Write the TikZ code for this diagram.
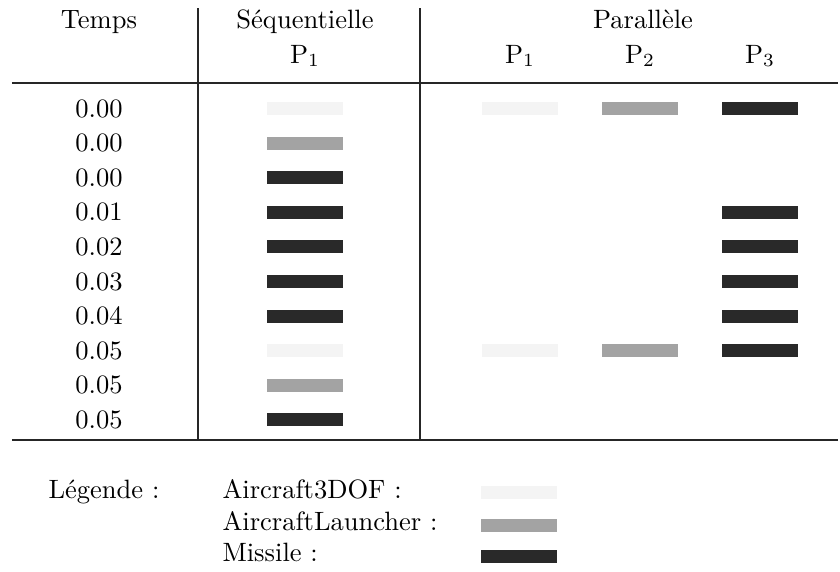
\documentclass[tikz,border=0pt]{standalone}
\usepackage{tikz}
\usetikzlibrary{positioning}
\definecolor{aircraftcol}{gray}{0.955}
\definecolor{launchercol}{gray}{0.64}
\definecolor{missilecol}{gray}{0.16}
\tikzset{
	slot/.style={
		rectangle,
		inner sep=0pt,
		minimum width=28.6pt,
		minimum height=4.9pt,
		fill=#1
	},
	txt/.style={anchor=base, inner sep=0pt},
	rule/.style={line width=0.65pt, draw=black!85}
}

\begin{document}
\begin{tikzpicture}[x=0.377pt, y=-0.377pt]
	\useasboundingbox (0,0) rectangle (840,572);
	% en-tete
	\node [txt] (temps) at (99,28) {Temps};
	\node [txt] (seq) at (305,28) {Séquentielle};
	\node [txt] (seqP1) at (305,63) {P$_1$};
	\node [txt] (par) at (643,28) {Parallèle};
	\node [txt] (parP1) at (520,63) {P$_1$};
	\node [txt] (parP2) at (640,63) {P$_2$};
	\node [txt] (parP3) at (760,63) {P$_3$};
	% filets
	\draw [rule] (12,83) -- (838,83);
	\draw [rule] (12,440) -- (838,440);
	\draw [rule] (198,8) -- (198,440);
	\draw [rule] (420,8) -- (420,440);
	% temps
	\foreach \t [count=\i] in {0.00,0.00,0.00,0.01,0.02,0.03,0.04,0.05,0.05,0.05}
		\node [txt] (t\i) at (99,{117+34.6*(\i-1)}) {\t};
	% execution sequentielle
	\foreach \r/\c in {1/aircraftcol,2/launchercol,3/missilecol,4/missilecol,5/missilecol,6/missilecol,7/missilecol,8/aircraftcol,9/launchercol,10/missilecol}
		\node [slot=\c] (s\r) at (305,{108.5+34.6*(\r-1)}) {};
	% execution parallele
	\foreach \r in {1,8} {
		\node [slot=aircraftcol] (pa\r) at (520,{108.5+34.6*(\r-1)}) {};
		\node [slot=launchercol] (pb\r) at (640,{108.5+34.6*(\r-1)}) {};
	}
	\foreach \r in {1,4,5,6,7,8}
		\node [slot=missilecol] (pc\r) at (760,{108.5+34.6*(\r-1)}) {};
	% legende
	\node [txt, anchor=base west] (leg) at (48,498) {Légende :};
	\node [txt, anchor=base west] (legA) at (222,498) {Aircraft3DOF :};
	\node [txt, anchor=base west] (legL) at (222,530) {AircraftLauncher :};
	\node [txt, anchor=base west] (legM) at (222,561) {Missile :};
	\node [slot=aircraftcol] (boxA) at (519,492) {};
	\node [slot=launchercol] (boxL) at (519,525) {};
	\node [slot=missilecol] (boxM) at (519,556) {};
\end{tikzpicture}
\end{document}
